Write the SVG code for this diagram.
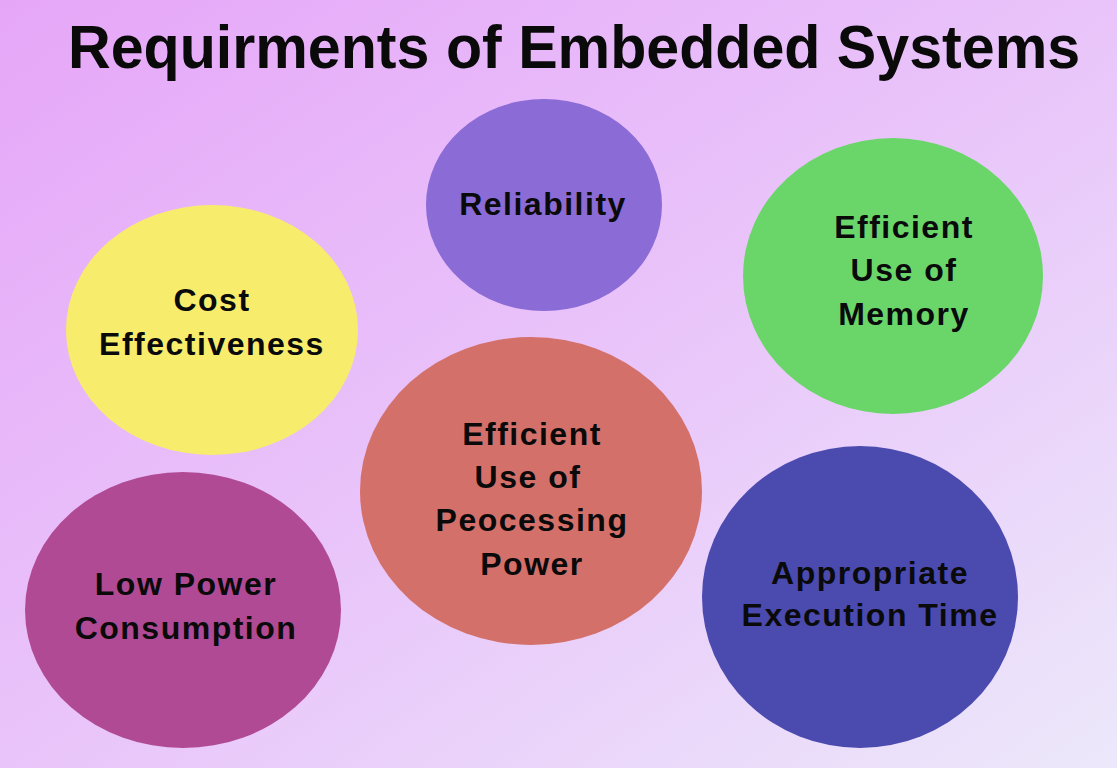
<svg xmlns="http://www.w3.org/2000/svg" width="1117" height="768" viewBox="0 0 1117 768">
<defs>
<linearGradient id="bg" x1="0" y1="0" x2="1" y2="1">
<stop offset="0" stop-color="#E6A6F8"/>
<stop offset="0.5" stop-color="#E9C4FA"/>
<stop offset="1" stop-color="#ECE8FA"/>
</linearGradient>
<style>
.t{font-family:"Liberation Sans",Arial,sans-serif;font-weight:bold;font-size:32px;fill:#0a0a0a;text-anchor:middle;letter-spacing:1.5px}
.title{font-family:"Liberation Sans",Arial,sans-serif;font-weight:bold;font-size:62px;fill:#0a0a0a}
</style>
</defs>
<rect width="1117" height="768" fill="url(#bg)"/>
<text class="title" x="0" y="0" transform="translate(68,68) scale(0.954,1)">Requirments of Embedded Systems</text>
<g id="reliability">
<ellipse cx="544" cy="205" rx="118" ry="106" fill="#8B6BD6"/>
<text class="t" x="543" y="215">Reliability</text>
</g>
<g id="memory">
<ellipse cx="893" cy="276" rx="150" ry="138" fill="#6AD66A"/>
<text class="t" x="904" y="238">Efficient</text>
<text class="t" x="904" y="281">Use of</text>
<text class="t" x="904" y="325">Memory</text>
</g>
<g id="cost">
<ellipse cx="212" cy="330" rx="146" ry="125" fill="#F8EC6C"/>
<text class="t" x="212" y="311">Cost</text>
<text class="t" x="212" y="355">Effectiveness</text>
</g>
<g id="processing">
<ellipse cx="531" cy="491" rx="171" ry="154" fill="#D4706A"/>
<text class="t" x="532" y="445">Efficient</text>
<text class="t" x="528" y="488">Use of</text>
<text class="t" x="532" y="531">Peocessing</text>
<text class="t" x="532" y="575">Power</text>
</g>
<g id="lowpower">
<ellipse cx="183" cy="610" rx="158" ry="138" fill="#B04A95"/>
<text class="t" x="186" y="595">Low Power</text>
<text class="t" x="186" y="639">Consumption</text>
</g>
<g id="execution">
<ellipse cx="860" cy="597" rx="158" ry="151" fill="#4B4AAF"/>
<text class="t" x="870" y="584">Appropriate</text>
<text class="t" x="870" y="626">Execution Time</text>
</g>
<g id="connectors"></g>
</svg>
